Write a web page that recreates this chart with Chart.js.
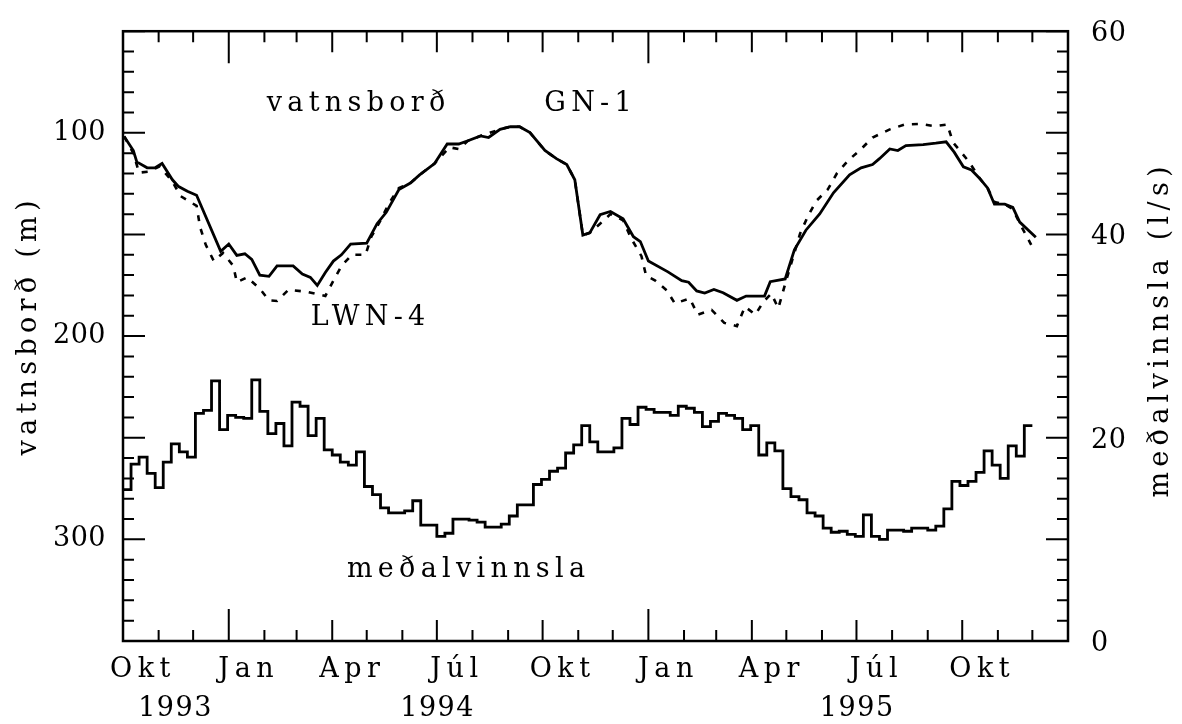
<!DOCTYPE html>
<html>
<head>
<meta charset="utf-8">
<script src="https://cdn.jsdelivr.net/npm/chart.js@4.4.0/dist/chart.umd.min.js"></script>
<style>
  body { margin: 0; background: #fff; }
  canvas { display: block; }
</style>
</head>
<body>
<canvas id="myChart" width="1182" height="724"></canvas>
<script>
// dagar talin frá 1. okt 1993

// vatnsborð GN-1 (m)
const gnDay = [1, 9, 12, 21, 28, 34, 43, 48, 56, 64, 85, 92, 99, 106, 112, 119, 127, 134, 148, 156,
  163, 169, 176, 183, 190, 198, 212, 221, 229, 240, 250, 258, 271, 282, 292, 300, 311, 318, 328, 337,
  345, 354, 367, 377, 386, 393, 400, 406, 415, 424, 435, 444, 450, 457, 474, 486, 492, 499, 506, 514,
  522, 534, 542, 558, 563, 576, 584, 594, 606, 618, 632, 642, 652, 658, 667, 674, 681, 696, 707, 716,
  723, 731, 738, 745, 752, 758, 767, 774, 780, 794];
const gnLevel = [101.8, 108.7, 114.3, 117.2, 117.2, 115.1, 123.1, 126.3, 128.7, 130.7, 158.3, 154.7, 160.3, 159.5, 162.3, 170, 170.6, 165.5, 165.5, 169.5,
  171.1, 175.1, 168.7, 163.1, 160, 154.7, 154.3, 144.7, 139.1, 127.9, 124.7, 120.7, 115.1, 105.5, 105.5, 103.9, 101.5, 102.3, 98.3, 97,
  97, 99.9, 108.7, 112.7, 115.6, 123.1, 150.3, 149.2, 140.3, 138.7, 142.3, 151.1, 153.5, 163.1, 168.4, 172.7, 173.5, 177.8, 178.8, 177.1,
  178.7, 182.4, 180.3, 180.3, 173.2, 171.9, 157.5, 147.9, 139.9, 129.5, 120.7, 117.2, 115.6, 112.7, 107.9, 108.7, 106.3, 105.8, 105.1, 104.4,
  109.5, 116.7, 118.3, 122.3, 127.1, 135.1, 135.1, 136.7, 143.9, 151.4];

// vatnsborð LWN-4 (m)
const lwnDay = [1, 9, 14, 22, 32, 43, 50, 64, 67, 72, 79, 87, 96, 99, 108, 119, 127, 134, 144, 161,
  176, 183, 190, 199, 211, 216, 224, 231, 240, 250, 258, 271, 284, 292, 300, 311, 328, 337, 345, 354,
  367, 377, 386, 393, 400, 406, 415, 424, 435, 442, 451, 455, 463, 473, 480, 493, 500, 512, 523, 534,
  541, 550, 557, 564, 570, 576, 589, 596, 603, 613, 621, 631, 642, 652, 667, 680, 693, 706, 717, 722,
  736, 745, 752, 758, 767, 774, 780, 790];
const lwnLevel = [101.8, 110, 119.6, 119.1, 116.5, 124, 131.1, 135.9, 146.3, 155.1, 163.1, 159.1, 165.5, 173.5, 171.1, 176.7, 182.4, 182.7, 177.2, 178.3,
  180.3, 172.7, 165.5, 160, 160, 151.1, 143.1, 135.1, 127.1, 124.7, 120.7, 115.1, 107.1, 108, 103.9, 101.5, 98.3, 97, 97, 99.9,
  108.7, 112.7, 115.6, 123.1, 150.3, 149.2, 144.7, 140, 143, 151.9, 160.7, 170.3, 172.7, 177.5, 183.9, 181.5, 189.5, 187.1, 193.5, 195.1,
  185.5, 189.5, 183.1, 179.1, 186.3, 174.3, 149.5, 140.7, 133.5, 127.9, 119.9, 113.5, 108, 102.3, 98.3, 95.9, 95.6, 96.7, 95.9, 104.7,
  114.3, 122.3, 127.1, 134, 135.1, 137.5, 144.5, 155.1];

// meðalvinnsla (l/s), vikumeðaltöl frá 1. okt 1993
const flowWeek = [14.9, 17.4, 18.1, 16.5, 15.1, 17.6, 19.4, 18.6, 18.1, 22.4,
  22.7, 25.6, 20.8, 22.2, 22.0, 21.9, 25.7, 22.6, 20.4, 21.4,
  19.2, 23.5, 23.1, 20.2, 21.9, 18.8, 18.3, 17.6, 17.3, 18.6,
  15.2, 14.4, 13.1, 12.6, 12.6, 12.8, 13.8, 11.4, 11.4, 10.3,
  10.6, 12.0, 12.0, 11.9, 11.7, 11.2, 11.2, 11.5, 12.3, 13.4,
  13.4, 15.4, 15.9, 16.7, 17.0, 18.5, 19.3, 21.2, 19.6,
  18.6, 18.6, 19.0, 21.9, 21.3, 23.0, 22.8, 22.5, 22.5, 22.2,
  23.1, 22.9, 22.5, 21.1, 21.6, 22.4, 22.2, 21.9, 20.8, 21.2,
  18.3, 19.5, 18.7, 15.0, 14.2, 13.9, 12.6, 12.3, 11.1, 10.7,
  10.8, 10.5, 10.3, 12.4, 10.3, 10.0, 10.9, 10.9, 10.8, 11.1,
  11.1, 10.9, 11.3, 13.0, 15.7, 15.3, 15.7, 16.6, 18.7, 17.3,
  16.0, 19.2, 18.2, 21.2];

const monthNames = ["Okt", "Jan", "Apr", "Júl"];
const yearLabels = ["1993", "1994", "1995"];
const yearDay = [45, 273, 638];
const leftTicks = [100, 200, 300];
const rightTicks = [0, 20, 40, 60];

const FONT = '"DejaVu Serif", "Liberation Serif", serif';
const T0 = Date.UTC(1993, 9, 1);

// upphaf hvers mánaðar, okt 1993 - jan 1996
const monthDays = [];
for (let i = 0; i <= 27; i++) {
  monthDays.push((Date.UTC(1993, 9 + i, 1) - T0) / 86400000);
}

function pairs(xs, ys) {
  return xs.map((x, i) => ({ x: x, y: ys[i] }));
}

const flowData = flowWeek.map((v, i) => ({ x: i * 7, y: v }));
flowData.push({ x: flowWeek.length * 7, y: flowWeek[flowWeek.length - 1] });

// bil milli stafa
function spacedDraw(ls) {
  return function(area) {
    const c = this.ctx;
    c.save();
    c.letterSpacing = ls + 'px';
    Chart.Scale.prototype.draw.call(this, area);
    c.restore();
  };
}

function text(ctx, str, x, y, ls, size, rot) {
  ctx.save();
  ctx.font = size + 'px ' + FONT;
  ctx.letterSpacing = ls + 'px';
  ctx.textAlign = 'center';
  ctx.textBaseline = 'alphabetic';
  ctx.translate(x, y);
  if (rot) ctx.rotate(rot);
  ctx.fillText(str, ls / 2, 0);
  ctx.restore();
}

const frame = {
  id: 'frame',
  afterDraw(chart) {
    const ctx = chart.ctx;
    const a = chart.chartArea;
    const s = chart.scales;
    ctx.save();
    ctx.strokeStyle = '#000';
    ctx.fillStyle = '#000';
    ctx.lineWidth = 2;
    ctx.beginPath();
    monthDays.forEach((d, i) => {
      const x = s.x.getPixelForValue(d);
      const m = (9 + i) % 12;
      const len = m === 0 ? 32 : (m % 3 === 0 ? 21 : 11);
      ctx.moveTo(x, a.bottom); ctx.lineTo(x, a.bottom - len);
      ctx.moveTo(x, a.top); ctx.lineTo(x, a.top + len);
    });
    for (let v = 50; v <= 350; v += 10) {
      const y = s.y.getPixelForValue(v);
      const len = v % 50 === 0 ? 22 : 11;
      ctx.moveTo(a.left, y); ctx.lineTo(a.left + len, y);
    }
    for (let v = 0; v <= 60; v += 2) {
      const y = s.y2.getPixelForValue(v);
      const len = v % 10 === 0 ? 22 : 11;
      ctx.moveTo(a.right, y); ctx.lineTo(a.right - len, y);
    }
    ctx.stroke();
    ctx.lineWidth = 2.5;
    ctx.strokeRect(a.left, a.top, a.right - a.left, a.bottom - a.top);

    // ártöl
    yearLabels.forEach((t, i) => {
      text(ctx, t, s.x.getPixelForValue(yearDay[i]), 716, 1.5, 27);
    });

    // ásaheiti
    text(ctx, 'vatnsborð (m)', 36, 328, 5.3, 27, -Math.PI / 2);
    text(ctx, 'meðalvinnsla (l/s)', 1168, 332, 5.3, 27, -Math.PI / 2);

    // skýringar
    text(ctx, 'vatnsborð', 356, 111, 5.3, 27);
    text(ctx, 'GN-1', 588, 111, 5.3, 27);
    text(ctx, 'LWN-4', 368, 325, 5.3, 27);
    text(ctx, 'meðalvinnsla', 466, 577, 5.3, 27);
    ctx.restore();
  }
};

const ctx = document.getElementById('myChart');

new Chart(ctx, {
  type: 'line',
  data: {
    datasets: [
      {
        label: 'LWN-4',
        data: pairs(lwnDay, lwnLevel),
        yAxisID: 'y',
        borderColor: '#000',
        borderWidth: 2.6,
        borderDash: [6, 8],
        pointRadius: 0,
        tension: 0
      },
      {
        label: 'GN-1',
        data: pairs(gnDay, gnLevel),
        yAxisID: 'y',
        borderColor: '#000',
        borderWidth: 2.8,
        pointRadius: 0,
        tension: 0
      },
      {
        label: 'meðalvinnsla',
        data: flowData,
        yAxisID: 'y2',
        borderColor: '#000',
        borderWidth: 2.8,
        pointRadius: 0,
        stepped: true
      }
    ]
  },
  options: {
    responsive: false,
    animation: false,
    devicePixelRatio: 1,
    layout: { padding: { top: 16, left: 0, right: 0, bottom: 0 } },
    plugins: {
      legend: { display: false },
      tooltip: { enabled: false }
    },
    scales: {
      x: {
        type: 'linear',
        min: 0,
        max: monthDays[27],
        grid: { display: false },
        border: { display: false },
        afterBuildTicks: sc => { sc.ticks = monthDays.map(v => ({ value: v })); },
        ticks: {
          autoSkip: false,
          maxRotation: 0,
          padding: 5,
          labelOffset: 20,
          color: '#000',
          font: { family: FONT, size: 27 },
          callback: (v, i) => (i % 3 === 0 && i < 27) ? monthNames[(i / 3) % 4] : ''
        },
        afterFit: sc => { sc.height = 83; sc.draw = spacedDraw(5.5); }
      },
      y: {
        type: 'linear',
        position: 'left',
        reverse: true,
        min: 50,
        max: 350,
        grid: { display: false },
        border: { display: false },
        afterBuildTicks: sc => { sc.ticks = leftTicks.map(v => ({ value: v })); },
        ticks: { padding: 9, color: '#000', font: { family: FONT, size: 27 } },
        afterFit: sc => { sc.width = 123; sc.draw = spacedDraw(0.5); }
      },
      y2: {
        type: 'linear',
        position: 'right',
        min: 0,
        max: 60,
        grid: { display: false },
        border: { display: false },
        afterBuildTicks: sc => { sc.ticks = rightTicks.map(v => ({ value: v })); },
        ticks: { padding: 15, labelOffset: 3, color: '#000', font: { family: FONT, size: 27 } },
        afterFit: sc => { sc.width = 114; sc.draw = spacedDraw(0.5); }
      }
    }
  },
  plugins: [frame]
});
</script>
</body>
</html>
